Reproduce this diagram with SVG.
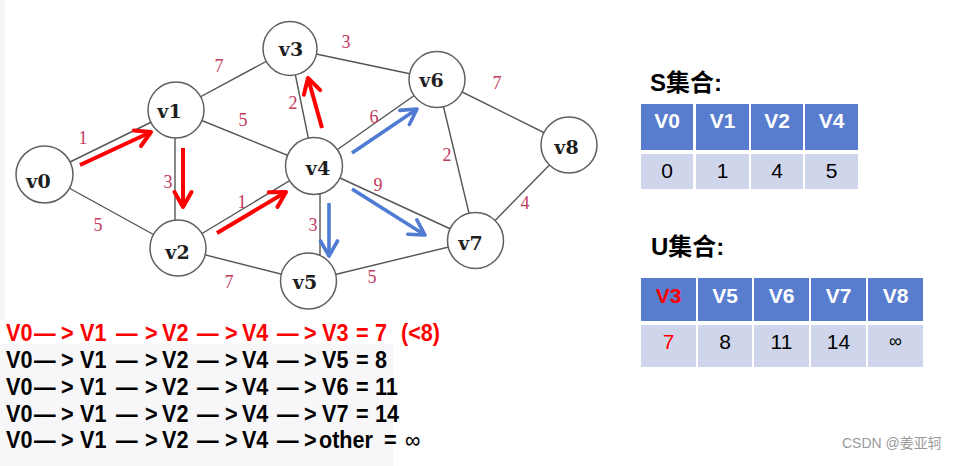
<svg xmlns="http://www.w3.org/2000/svg" width="957" height="466" viewBox="0 0 957 466">
<style>
.edge{stroke:#555;stroke-width:1.4;fill:none}
.node circle{fill:#fff;stroke:#606060;stroke-width:1.5}
.node text{font-family:"DejaVu Serif","Liberation Serif",serif;font-weight:bold;font-size:19px;fill:#1e1e1e;text-anchor:middle}
.w{font-family:"Liberation Serif",serif;font-size:18px;fill:#c23a5c;text-anchor:middle}
.ra{stroke:#ff0000;stroke-width:4;fill:none;marker-end:url(#mr)}
.ba{stroke:#4f7bd2;stroke-width:3.6;fill:none;marker-end:url(#mb)}
.path{font-family:"Liberation Sans",Arial,sans-serif;font-weight:bold;font-size:23.5px}
.title{font-family:"Liberation Sans",Arial,"Noto Sans CJK SC",sans-serif;font-weight:bold;font-size:24px;fill:#000}
.hd{fill:#587dcf}
.vl{fill:#cfd5ea}
.ht{font-family:"Liberation Sans",Arial,sans-serif;font-weight:bold;font-size:21px;fill:#fff;text-anchor:middle}
.vt{font-family:"Liberation Sans",Arial,sans-serif;font-size:21px;fill:#000;text-anchor:middle}
</style>
<defs>
<marker id="mr" markerUnits="userSpaceOnUse" markerWidth="24" markerHeight="24" viewBox="-18 -12 22 24" refX="0" refY="0" orient="auto">
<path d="M-15,-8.5 L0,0 L-15,8.5" fill="none" stroke="#ff0000" stroke-width="4" stroke-linejoin="round" stroke-linecap="round"/>
</marker>
<marker id="mb" markerUnits="userSpaceOnUse" markerWidth="24" markerHeight="24" viewBox="-18 -12 22 24" refX="0" refY="0" orient="auto">
<path d="M-15,-8.5 L0,0 L-15,8.5" fill="none" stroke="#4f7bd2" stroke-width="3.6" stroke-linejoin="round" stroke-linecap="round"/>
</marker>
</defs>
<rect x="0" y="0" width="957" height="466" fill="#fff"/>
<rect x="0" y="0" width="5" height="320" fill="#f4f4f6"/>
<rect x="0" y="344" width="393" height="122" fill="#f7f7f9"/>

<g id="connectors">
<line class="edge" x1="44.5" y1="174.5" x2="176" y2="110"/>
<line class="edge" x1="176" y1="110" x2="290" y2="48.5"/>
<line class="edge" x1="176" y1="110" x2="314" y2="166"/>
<line class="edge" x1="175" y1="110" x2="175" y2="248"/>
<line class="edge" x1="44.5" y1="174.5" x2="178" y2="248"/>
<line class="edge" x1="178" y1="248" x2="314" y2="166"/>
<line class="edge" x1="178" y1="248" x2="308.5" y2="281"/>
<line class="edge" x1="290" y1="48.5" x2="314" y2="166"/>
<line class="edge" x1="290" y1="48.5" x2="437" y2="79.5"/>
<line class="edge" x1="314" y1="166" x2="437" y2="79.5"/>
<line class="edge" x1="314" y1="166" x2="475.5" y2="240.5"/>
<line class="edge" x1="320" y1="166" x2="320" y2="281"/>
<line class="edge" x1="437" y1="79.5" x2="475.5" y2="240.5"/>
<line class="edge" x1="437" y1="79.5" x2="569" y2="145"/>
<line class="edge" x1="569" y1="145" x2="475.5" y2="240.5"/>
<line class="edge" x1="308.5" y1="281" x2="475.5" y2="240.5"/>
<text class="w" x="83" y="144">1</text>
<text class="w" x="219" y="72">7</text>
<text class="w" x="243" y="126">5</text>
<text class="w" x="293" y="109">2</text>
<text class="w" x="346" y="48">3</text>
<text class="w" x="497" y="89">7</text>
<text class="w" x="374" y="123">6</text>
<text class="w" x="447" y="161">2</text>
<text class="w" x="168" y="188">3</text>
<text class="w" x="98" y="231">5</text>
<text class="w" x="242" y="208">1</text>
<text class="w" x="229" y="288">7</text>
<text class="w" x="313" y="231">3</text>
<text class="w" x="378" y="191">9</text>
<text class="w" x="525" y="209">4</text>
<text class="w" x="372" y="283">5</text>
</g>

<g id="v0" class="node"><circle cx="44.5" cy="174.5" r="28.5"/><text x="38.5" y="188">v0</text></g>
<g id="v1" class="node"><circle cx="176" cy="110" r="28"/><text x="169.5" y="118">v1</text></g>
<g id="v2" class="node"><circle cx="178" cy="248" r="28"/><text x="177.5" y="259">v2</text></g>
<g id="v3" class="node"><circle cx="290" cy="48.5" r="27"/><text x="291" y="56">v3</text></g>
<g id="v4" class="node"><circle cx="314" cy="166" r="28.5"/><text x="318" y="175">v4</text></g>
<g id="v5" class="node"><circle cx="308.5" cy="281" r="28"/><text x="305" y="289">v5</text></g>
<g id="v6" class="node"><circle cx="437" cy="79.5" r="28"/><text x="431.5" y="87">v6</text></g>
<g id="v7" class="node"><circle cx="475.5" cy="240.5" r="28"/><text x="470.5" y="250">v7</text></g>
<g id="v8" class="node"><circle cx="569" cy="145" r="28"/><text x="566.5" y="154">v8</text></g>

<g id="arrows">
<line class="ra" x1="80" y1="165" x2="151" y2="132"/>
<line class="ra" x1="183" y1="148" x2="183" y2="207"/>
<line class="ra" x1="217" y1="233" x2="286" y2="192"/>
<line class="ra" x1="322" y1="128" x2="308" y2="78"/>
<line class="ba" x1="352" y1="153" x2="417" y2="109"/>
<line class="ba" x1="329" y1="203" x2="329" y2="256"/>
<line class="ba" x1="352" y1="189" x2="425" y2="235"/>
</g>

<g id="paths" transform="scale(0.92 1)">
<text class="path" y="341" fill="#ff0000"><tspan x="6.5">V0</tspan><tspan x="37">—</tspan><tspan x="66.3">&gt;</tspan><tspan x="87">V1</tspan><tspan x="126.1">—</tspan><tspan x="157.6">&gt;</tspan><tspan x="176.1">V2</tspan><tspan x="214.1">—</tspan><tspan x="244.6">&gt;</tspan><tspan x="263">V4</tspan><tspan x="301.1">—</tspan><tspan x="330.4">&gt;</tspan><tspan x="350">V3</tspan><tspan x="387">=</tspan><tspan x="407.6">7</tspan><tspan x="435.9">(&lt;8)</tspan></text>
<text class="path" y="368" fill="#000"><tspan x="6.5">V0</tspan><tspan x="37">—</tspan><tspan x="66.3">&gt;</tspan><tspan x="87">V1</tspan><tspan x="126.1">—</tspan><tspan x="157.6">&gt;</tspan><tspan x="176.1">V2</tspan><tspan x="214.1">—</tspan><tspan x="244.6">&gt;</tspan><tspan x="263">V4</tspan><tspan x="301.1">—</tspan><tspan x="330.4">&gt;</tspan><tspan x="350">V5</tspan><tspan x="387">=</tspan><tspan x="407.6">8</tspan></text>
<text class="path" y="395" fill="#000"><tspan x="6.5">V0</tspan><tspan x="37">—</tspan><tspan x="66.3">&gt;</tspan><tspan x="87">V1</tspan><tspan x="126.1">—</tspan><tspan x="157.6">&gt;</tspan><tspan x="176.1">V2</tspan><tspan x="214.1">—</tspan><tspan x="244.6">&gt;</tspan><tspan x="263">V4</tspan><tspan x="301.1">—</tspan><tspan x="330.4">&gt;</tspan><tspan x="350">V6</tspan><tspan x="387">=</tspan><tspan x="407.6">11</tspan></text>
<text class="path" y="422" fill="#000"><tspan x="6.5">V0</tspan><tspan x="37">—</tspan><tspan x="66.3">&gt;</tspan><tspan x="87">V1</tspan><tspan x="126.1">—</tspan><tspan x="157.6">&gt;</tspan><tspan x="176.1">V2</tspan><tspan x="214.1">—</tspan><tspan x="244.6">&gt;</tspan><tspan x="263">V4</tspan><tspan x="301.1">—</tspan><tspan x="330.4">&gt;</tspan><tspan x="350">V7</tspan><tspan x="387">=</tspan><tspan x="407.6">14</tspan></text>
<text class="path" y="448" fill="#000"><tspan x="6.5">V0</tspan><tspan x="37">—</tspan><tspan x="66.3">&gt;</tspan><tspan x="87">V1</tspan><tspan x="126.1">—</tspan><tspan x="157.6">&gt;</tspan><tspan x="176.1">V2</tspan><tspan x="214.1">—</tspan><tspan x="244.6">&gt;</tspan><tspan x="263">V4</tspan><tspan x="301.1">—</tspan><tspan x="330.4">&gt;</tspan><tspan x="346.7">other</tspan><tspan x="417.4">=</tspan><tspan x="440.2" font-weight="normal">∞</tspan></text>
</g>

<g id="S-table">
<text class="title" x="650" y="91">S集合:</text>
<rect class="hd" x="641" y="104" width="52" height="46"/>
<rect class="hd" x="696" y="104" width="53" height="46"/>
<rect class="hd" x="751" y="104" width="52" height="46"/>
<rect class="hd" x="805" y="104" width="53" height="46"/>
<rect class="vl" x="641" y="154" width="52" height="35"/>
<rect class="vl" x="696" y="154" width="53" height="35"/>
<rect class="vl" x="751" y="154" width="52" height="35"/>
<rect class="vl" x="805" y="154" width="53" height="35"/>
<text class="ht" x="667" y="128">V0</text>
<text class="ht" x="722.5" y="128">V1</text>
<text class="ht" x="777" y="128">V2</text>
<text class="ht" x="831.5" y="128">V4</text>
<text class="vt" x="667" y="178">0</text>
<text class="vt" x="722.5" y="178">1</text>
<text class="vt" x="777" y="178">4</text>
<text class="vt" x="831.5" y="178">5</text>
</g>

<g id="U-table">
<text class="title" x="651" y="255">U集合:</text>
<rect class="hd" x="641" y="278" width="55" height="43"/>
<rect class="hd" x="698" y="278" width="54" height="43"/>
<rect class="hd" x="754" y="278" width="55" height="43"/>
<rect class="hd" x="811" y="278" width="55" height="43"/>
<rect class="hd" x="868" y="278" width="55" height="43"/>
<rect class="vl" x="641" y="325" width="55" height="42"/>
<rect class="vl" x="698" y="325" width="54" height="42"/>
<rect class="vl" x="754" y="325" width="55" height="42"/>
<rect class="vl" x="811" y="325" width="55" height="42"/>
<rect class="vl" x="868" y="325" width="55" height="42"/>
<text class="ht" x="668.5" y="303" style="fill:#ff0000">V3</text>
<text class="ht" x="725" y="303">V5</text>
<text class="ht" x="781.5" y="303">V6</text>
<text class="ht" x="838.5" y="303">V7</text>
<text class="ht" x="895.5" y="303">V8</text>
<text class="vt" x="668.5" y="349" style="fill:#ff0000">7</text>
<text class="vt" x="725" y="349">8</text>
<text class="vt" x="781.5" y="349">11</text>
<text class="vt" x="838.5" y="349">14</text>
<text class="vt" x="895.5" y="347" style="font-size:18px">∞</text>
</g>

<text x="842" y="448" font-family="Liberation Sans, Arial, Noto Sans CJK SC, sans-serif" font-size="14" fill="#9a9a9a">CSDN @姜亚轲</text>
</svg>
